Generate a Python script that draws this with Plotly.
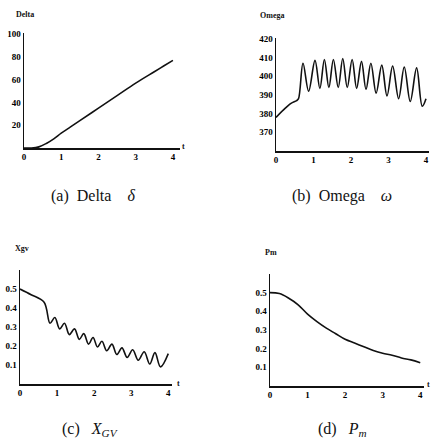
import plotly.graph_objects as go

W, H = 432, 442

# ---- data ----
delta_t = [0, 0.2, 0.4, 0.6, 0.8, 1.0, 1.25, 1.5, 2.0, 2.5, 3.0, 3.5, 3.75, 4.0]
delta_v = [0, 0, 1, 4, 8, 13, 18.5, 24, 35, 46, 57, 67, 72, 77]

omega_t = [0, 0.2, 0.4, 0.55, 0.6, 0.72, 0.87, 1.04, 1.17, 1.29, 1.41, 1.53, 1.66,
           1.78, 1.9, 2.03, 2.15, 2.28, 2.4, 2.53, 2.67, 2.82, 2.96, 3.11, 3.27,
           3.42, 3.58, 3.75, 3.9, 4.0]
omega_v = [378, 382, 385.5, 387, 388, 407, 392, 408.5, 393.5, 409, 394, 409, 394,
           409.5, 394, 409, 393.5, 408, 393, 407, 391, 406, 389.5, 405.5, 388,
           405, 386.5, 404.5, 384, 388]

xgv_t = [0, 0.3, 0.65, 0.81, 0.94, 1.07, 1.2, 1.33, 1.47, 1.6, 1.72, 1.85, 1.97,
         2.09, 2.21, 2.34, 2.48, 2.61, 2.75, 2.89, 3.04, 3.19, 3.35, 3.5, 3.64,
         3.79, 4.0]
xgv_v = [0.5, 0.47, 0.43, 0.32, 0.35, 0.29, 0.32, 0.26, 0.29, 0.235, 0.265, 0.21,
         0.245, 0.195, 0.225, 0.175, 0.21, 0.155, 0.19, 0.14, 0.18, 0.125, 0.17,
         0.105, 0.165, 0.09, 0.16]

pm_t = [0, 0.25, 0.5, 0.75, 1.0, 1.25, 1.5, 1.75, 2.0, 2.25, 2.5, 2.75, 3.0,
        3.25, 3.5, 3.75, 4.0]
pm_v = [0.5, 0.495, 0.47, 0.435, 0.385, 0.345, 0.31, 0.28, 0.25, 0.23, 0.21,
        0.19, 0.175, 0.165, 0.15, 0.14, 0.125]

x_ticks = [0, 1, 2, 3, 4]
delta_ticks = [20, 40, 60, 80, 100]
omega_ticks = [370, 380, 390, 400, 410, 420]
frac_ticks = [0.1, 0.2, 0.3, 0.4, 0.5]

panels = [
    dict(t=delta_t, v=delta_v, x=(24, 180), y=(148, 33), xr=[0, 4.19], yr=[0, 101],
         yt=delta_ticks, lab="Delta", labp=(25, 14),
         cap="(a)  Delta    <i>δ</i>", capp=(93, 196), tp=(183, 147)),
    dict(t=omega_t, v=omega_v, x=(276, 429), y=(151, 38), xr=[0, 4.08], yr=[360, 420.5],
         yt=omega_ticks, lab="Omega", labp=(272, 16),
         cap="(b)  Omega    <i>ω</i>", capp=(342, 196), tp=None),
    dict(t=xgv_t, v=xgv_v, x=(20, 172), y=(384, 270), xr=[0, 4.1], yr=[0, 0.6],
         yt=frac_ticks, lab="Xgv", labp=(22, 248),
         cap="(c)   <i>X<sub>GV</sub></i>", capp=(90, 429), tp=(178, 383)),
    dict(t=pm_t, v=pm_v, x=(270, 424), y=(386, 274), xr=[0, 4.1], yr=[0, 0.6],
         yt=frac_ticks, lab="Pm", labp=(271, 253),
         cap="(d)   <i>P<sub>m</sub></i>", capp=(342, 429), tp=(428, 384)),
]

fig = go.Figure()
serif = "Liberation Serif"
ink = "#111111"
annotations = []
layout = {}
for i, p in enumerate(panels):
    n = "" if i == 0 else str(i + 1)
    fig.add_trace(go.Scatter(x=p["t"], y=p["v"], mode="lines",
                             line=dict(color=ink, width=1.6, shape="spline", smoothing=1.0),
                             xaxis="x" + n, yaxis="y" + n, showlegend=False,
                             cliponaxis=True, hoverinfo="skip"))
    tf = dict(family=serif, size=9, color="#000000")
    layout["xaxis" + n] = dict(
        domain=[p["x"][0] / W, p["x"][1] / W], range=p["xr"], anchor="y" + n,
        tickvals=x_ticks, ticktext=["<b>%g</b>" % v for v in x_ticks],
        ticks="", showgrid=False, zeroline=False, automargin=False,
        showline=True, linecolor=ink, linewidth=1.5, tickfont=tf)
    layout["yaxis" + n] = dict(
        domain=[1 - p["y"][0] / H, 1 - p["y"][1] / H], range=p["yr"], anchor="x" + n,
        tickvals=p["yt"], ticktext=["<b>%g</b>" % v for v in p["yt"]],
        ticks="", showgrid=False, zeroline=False, automargin=False,
        showline=True, linecolor=ink, linewidth=1.5, tickfont=tf)
    common = dict(xref="paper", yref="paper", showarrow=False, xanchor="center", yanchor="middle")
    annotations.append(dict(text="<b>" + p["lab"] + "</b>", x=p["labp"][0] / W, y=1 - p["labp"][1] / H,
                            font=dict(family=serif, size=8, color=ink), **common))
    annotations.append(dict(text=p["cap"], x=p["capp"][0] / W, y=1 - p["capp"][1] / H,
                            font=dict(family=serif, size=16, color=ink), **common))
    if p["tp"] is not None:
        annotations.append(dict(text="<b>t</b>", x=p["tp"][0] / W, y=1 - p["tp"][1] / H,
                                font=dict(family=serif, size=8, color=ink), **common))

fig.update_layout(template="none", width=W, height=H, margin=dict(l=0, r=0, t=0, b=0),
                  paper_bgcolor="white", plot_bgcolor="white", hovermode=False,
                  annotations=annotations, **layout)
fig.write_html("out.html", config={"displayModeBar": False, "staticPlot": True},
               post_script="document.body.style.margin='0';document.body.style.overflow='hidden';")
